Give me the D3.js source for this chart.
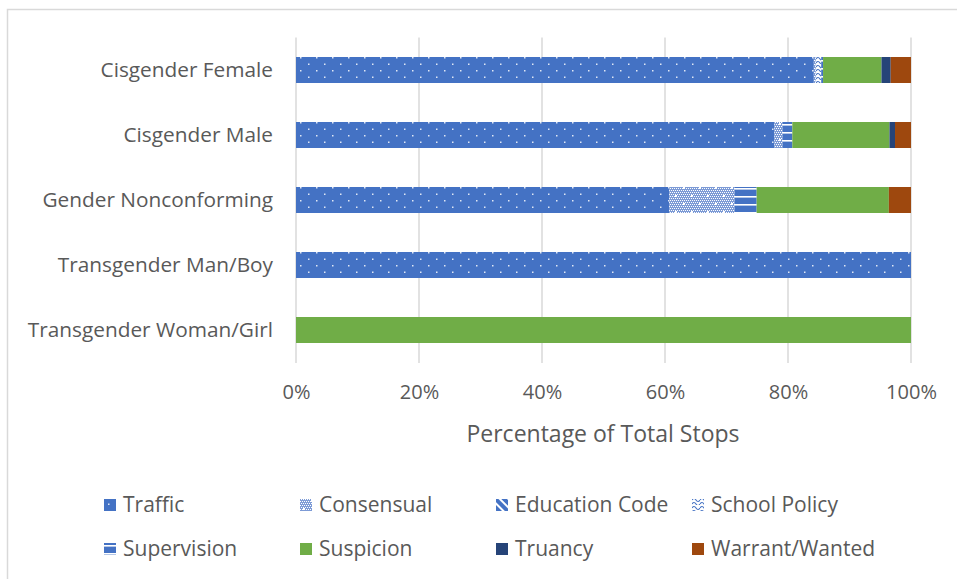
<!DOCTYPE html>
<html>
<head>
<meta charset="utf-8">
<script src="https://cdn.jsdelivr.net/npm/d3@7"></script>
<style>
  body { margin: 0; background: #fff; }
  svg text { font-family: "Open Sans", Lato, sans-serif; fill: #595959; }
</style>
</head>
<body>
<svg id="chart"></svg>
<script>
const categories = [
    "Cisgender Female",
    "Cisgender Male",
    "Gender Nonconforming",
    "Transgender Man/Boy",
    "Transgender Woman/Girl",
];
const seriesNames = [
    "Traffic", "Consensual", "Education Code", "School Policy",
    "Supervision", "Suspicion", "Truancy", "Warrant/Wanted",
];
// percent of stops per category
const traffic = [84.2, 77.8, 60.7, 100, 0];
const consensual = [0.3, 1.3, 10.6, 0, 0];
const educationCode = [0, 0, 0, 0, 0];
const schoolPolicy = [0.9, 0, 0, 0, 0];
const supervision = [0.3, 1.6, 3.6, 0, 0];
const suspicion = [9.5, 15.8, 21.5, 0, 100];
const truancy = [1.5, 0.9, 0, 0, 0];
const warrant = [3.3, 2.6, 3.6, 0, 0];
const xTicks = [0, 0.2, 0.4, 0.6, 0.8, 1];

const width = 957,
    height = 579;
const svg = d3.select("#chart").attr("width", width).attr("height", height);

const rows = categories.map((c, i) => ({
    category: c,
    "Traffic": traffic[i],
    "Consensual": consensual[i],
    "Education Code": educationCode[i],
    "School Policy": schoolPolicy[i],
    "Supervision": supervision[i],
    "Suspicion": suspicion[i],
    "Truancy": truancy[i],
    "Warrant/Wanted": warrant[i],
}));

// patterns (Excel style fills)
const defs = svg.append("defs");
const blue = "#4472C4";

let p = defs.append("pattern").attr("id", "p-traffic").attr("patternUnits", "userSpaceOnUse")
    .attr("width", 16).attr("height", 13).attr("x", 296).attr("y", 57);
p.append("rect").attr("width", 16).attr("height", 13).attr("fill", blue);
p.append("rect").attr("x", 4).attr("y", 0).attr("width", 1.5).attr("height", 1.5).attr("fill", "#dfe7f5");
p.append("rect").attr("x", 12).attr("y", 6.5).attr("width", 1.5).attr("height", 1.5).attr("fill", "#dfe7f5");

p = defs.append("pattern").attr("id", "p-consensual").attr("patternUnits", "userSpaceOnUse")
    .attr("width", 16).attr("height", 16);
p.append("rect").attr("width", 16).attr("height", 16).attr("fill", "#7d9bd6");
for (let yy = 0; yy < 16; yy += 2) {
    for (let xx = (yy / 2) % 2; xx < 16; xx += 2) {
        p.append("rect").attr("x", xx).attr("y", yy).attr("width", 1).attr("height", 1).attr("fill", "#ffffff");
    }
}
p.append("rect").attr("x", 3).attr("y", 3).attr("width", 2).attr("height", 2).attr("fill", "#fff");
p.append("rect").attr("x", 11).attr("y", 11).attr("width", 2).attr("height", 2).attr("fill", "#fff");

p = defs.append("pattern").attr("id", "p-education").attr("patternUnits", "userSpaceOnUse")
    .attr("width", 6).attr("height", 6).attr("patternTransform", "rotate(-45)");
p.append("rect").attr("width", 6).attr("height", 6).attr("fill", blue);
p.append("rect").attr("width", 2).attr("height", 6).attr("fill", "#fff");

p = defs.append("pattern").attr("id", "p-school").attr("patternUnits", "userSpaceOnUse")
    .attr("width", 8).attr("height", 8);
p.append("rect").attr("width", 8).attr("height", 8).attr("fill", "#fff");
p.append("path").attr("d", "M0,3 Q2,0 4,3 T8,3").attr("fill", "none").attr("stroke", blue).attr("stroke-width", 1.2);
p.append("path").attr("d", "M0,7 Q2,4 4,7 T8,7").attr("fill", "none").attr("stroke", blue).attr("stroke-width", 1.2);

p = defs.append("pattern").attr("id", "p-supervision").attr("patternUnits", "userSpaceOnUse")
    .attr("width", 8).attr("height", 8).attr("y", 57);
p.append("rect").attr("width", 8).attr("height", 8).attr("fill", blue);
p.append("rect").attr("y", 3).attr("width", 8).attr("height", 1.6).attr("fill", "#fff");

const fills = {
    "Traffic": "url(#p-traffic)",
    "Consensual": "url(#p-consensual)",
    "Education Code": "url(#p-education)",
    "School Policy": "url(#p-school)",
    "Supervision": "url(#p-supervision)",
    "Suspicion": "#70AD47",
    "Truancy": "#264478",
    "Warrant/Wanted": "#9E480E",
};

// chart border (only the top and left edges fall inside the frame)
svg.append("rect").attr("x", 7.5).attr("y", 9.5).attr("width", 960).attr("height", 600)
    .attr("fill", "none").attr("stroke", "#D9D9D9").attr("stroke-width", 1.5);

const xScale = d3.scaleLinear().domain([0, 1]).range([296, 911]);
const yScale = d3.scaleBand().domain(categories).range([37.5, 362.5])
    .paddingInner(0.6).paddingOuter(0.3);

// gridlines
svg.append("g").selectAll("line").data(xTicks).enter().append("line")
    .attr("x1", (d) => xScale(d)).attr("x2", (d) => xScale(d))
    .attr("y1", 37.5).attr("y2", 363)
    .attr("stroke", "#D9D9D9").attr("stroke-width", 1.5);

const stacked = d3.stack().keys(seriesNames).offset(d3.stackOffsetExpand)(rows);

svg.append("g").selectAll("g").data(stacked).enter().append("g")
    .attr("fill", (s) => fills[s.key])
    .selectAll("rect").data((s) => s).enter().append("rect")
    .attr("x", (d) => xScale(d[0]))
    .attr("width", (d) => xScale(d[1]) - xScale(d[0]))
    .attr("y", (d) => yScale(d.data.category))
    .attr("height", yScale.bandwidth());

// axes
const xAxis = d3.axisBottom(xScale).tickValues(xTicks).tickFormat(d3.format(".0%")).tickSize(0).tickPadding(22);
svg.append("g").attr("id", "x-axis").attr("transform", "translate(0, 363)").call(xAxis)
    .call((g) => g.select(".domain").remove())
    .selectAll("text").style("font-size", "20px").attr("fill", "#595959");

const yAxis = d3.axisLeft(yScale).tickSize(0).tickPadding(23);
svg.append("g").attr("id", "y-axis").attr("transform", "translate(296, 0)").call(yAxis)
    .call((g) => g.select(".domain").remove())
    .selectAll("text").style("font-size", "20.8px").attr("fill", "#595959");

svg.append("text").attr("x", 603).attr("y", 442).attr("text-anchor", "middle")
    .style("font-size", "23px").text("Percentage of Total Stops");

// legend
const legend = svg.append("g").selectAll("g").data(seriesNames).enter().append("g")
    .attr("transform", (d, i) => `translate(${104 + (i % 4) * 196}, ${505 + Math.floor(i / 4) * 44})`);
legend.append("rect").attr("x", 0).attr("y", -6).attr("width", 12).attr("height", 12)
    .attr("fill", (d) => fills[d]);
legend.append("text").attr("x", 19).attr("y", 0).attr("dy", "0.35em")
    .style("font-size", "21px").text((d) => d);
</script>
</body>
</html>
